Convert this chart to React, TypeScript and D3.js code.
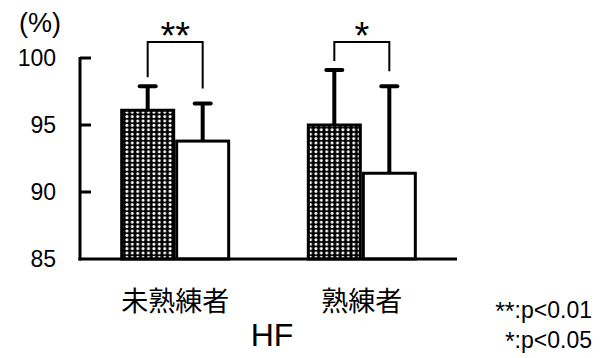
import React from "react";
import * as d3 from "d3";

const categories = ["未熟練者", "熟練者"];
const seriesKeys = ["dark", "white"];
const means = [
  [96.1, 93.8],
  [95.0, 91.4],
];
const sds = [
  [1.8, 2.8],
  [4.1, 6.5],
];
const sigLabels = ["**", "*"];
const yTicks = [85, 90, 95, 100];
const legendStars = ["**", "*"];
const legendTexts = [":p<0.01", ":p<0.05"];
const axisTitle = "HF";
const unitLabel = "(%)";

const W = 605;
const H = 358;

export default function App() {
  const y = d3.scaleLinear().domain([85, 100]).range([259, 58]);
  const xg = d3.scalePoint<string>().domain(categories).range([80, 457]).padding(0.51);
  const xb = d3.scaleBand<string>().domain(seriesKeys).range([-55, 55]).paddingInner(0);
  const numFont = "'Liberation Sans', Arial, sans-serif";
  const cjkFont = "'Noto Sans CJK JP', sans-serif";

  return (
    <svg width={W} height={H} style={{ position: "absolute", left: 0, top: 0, background: "#fff" }}>
      <defs>
        <pattern id="dots" width={5.4} height={4.4} patternUnits="userSpaceOnUse">
          <rect width={5.4} height={4.4} fill="#000" />
          <circle cx={2.7} cy={2.2} r={1.5} fill="#fff" />
        </pattern>
      </defs>

      {/* unit label */}
      <text x={40} y={32} fontFamily={numFont} fontSize={27} textAnchor="middle">
        {unitLabel}
      </text>

      {/* y axis */}
      <line x1={80} x2={80} y1={y(100) - 1} y2={y(85) + 1.5} stroke="#000" strokeWidth={3} />
      {yTicks.map((t) => (
        <g key={t}>
          {t !== 85 && <line x1={80} x2={91} y1={y(t)} y2={y(t)} stroke="#000" strokeWidth={3} />}
          <text x={56} y={y(t)} fontFamily={numFont} fontSize={23} textAnchor="end" dominantBaseline="central">
            {t}
          </text>
        </g>
      ))}

      {/* bars */}
      {categories.map((c, gi) => {
        const cx = xg(c)!;
        return (
          <g key={c}>
            {seriesKeys.map((k, si) => {
              const x0 = cx + xb(k)!;
              const bw = xb.bandwidth();
              const m = means[gi][si];
              const top = m + sds[gi][si];
              const bx = x0 + bw / 2;
              return (
                <g key={k}>
                  <line x1={bx} x2={bx} y1={y(m)} y2={y(top)} stroke="#000" strokeWidth={4} />
                  <line x1={bx - 8} x2={bx + 8} y1={y(top)} y2={y(top)} stroke="#000" strokeWidth={4} strokeLinecap="round" />
                  <rect
                    x={x0 + 1.5}
                    y={y(m)}
                    width={bw - 3}
                    height={y(85) - y(m)}
                    fill={si === 0 ? "url(#dots)" : "#fff"}
                    stroke="#000"
                    strokeWidth={3}
                  />
                </g>
              );
            })}
            {/* significance bracket */}
            {(() => {
              const lx = cx + xb(seriesKeys[0])! + xb.bandwidth() / 2;
              const rx = cx + xb(seriesKeys[1])! + xb.bandwidth() / 2;
              const ly = y(means[gi][0] + sds[gi][0]) - 9;
              const ry = y(means[gi][1] + sds[gi][1]) - 15;
              const ty = y(101.2);
              return (
                <g>
                  <path d={`M${lx},${ly}V${ty}H${rx}V${ry}`} fill="none" stroke="#000" strokeWidth={2} />
                  <text x={(lx + rx) / 2} y={35.5} fontFamily={numFont} fontSize={38} textAnchor="middle" dominantBaseline="central">
                    {sigLabels[gi]}
                  </text>
                </g>
              );
            })()}
            <text x={cx} y={299} fontFamily={cjkFont} fontSize={27} textAnchor="middle" dominantBaseline="central">
              {c}
            </text>
          </g>
        );
      })}

      {/* x axis */}
      <line x1={78.5} x2={457} y1={y(85)} y2={y(85)} stroke="#000" strokeWidth={3} />

      <text x={272} y={335} fontFamily={numFont} fontSize={32} textAnchor="middle" dominantBaseline="central">
        {axisTitle}
      </text>

      {legendTexts.map((l, i) => (
        <text key={l} x={592} y={318 + i * 30} fontFamily={numFont} fontSize={23} textAnchor="end">
          <tspan fontSize={25} dy={2}>{legendStars[i]}</tspan>
          <tspan dy={-2}>{l}</tspan>
        </text>
      ))}
    </svg>
  );
}
